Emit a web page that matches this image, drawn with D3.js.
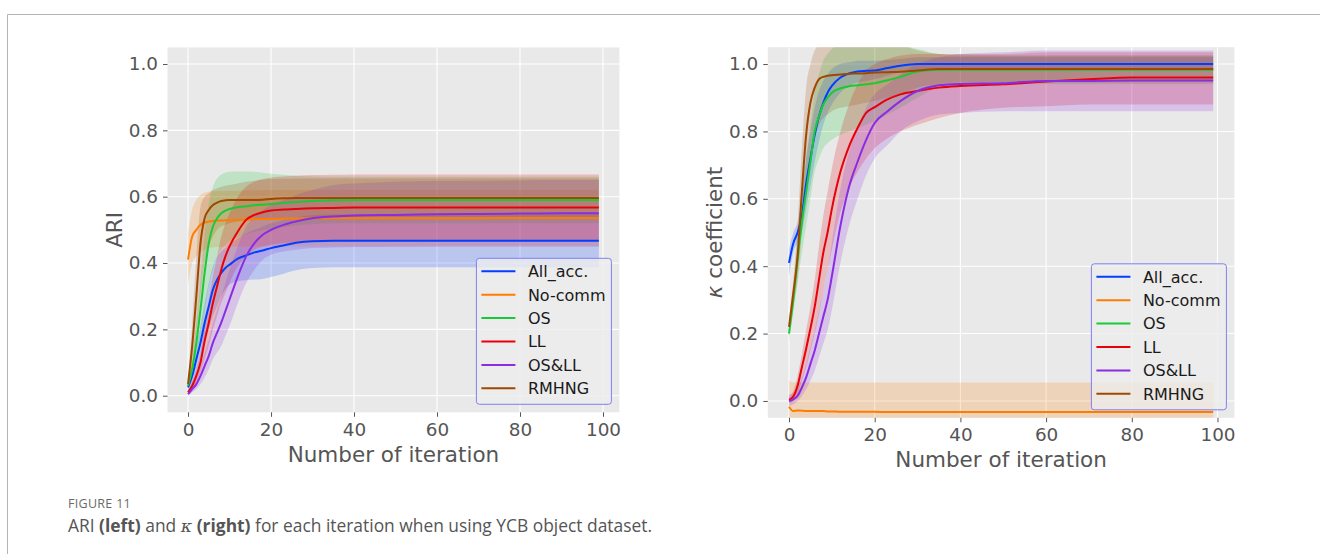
<!DOCTYPE html>
<html>
<head>
<meta charset="utf-8">
<script src="https://d3js.org/d3.v7.min.js"></script>
<style>
  body { margin: 0; background: #fff; }
  svg { display: block; }
  .tick text { font-family: "DejaVu Sans", sans-serif; }
</style>
</head>
<body>
<div id="chart"></div>
<script>
const iters = [0,1,2,3,4,5,6,7,8,9,10,12,14,16,18,20,23,26,30,35,40,50,60,70,80,90,99];

const seriesNames = ["All_acc.", "No-comm", "OS", "LL", "OS&LL", "RMHNG"];
const seriesColors = ["#023eff", "#ff7c00", "#1ac938", "#e8000b", "#8b2be2", "#9f4800"];

const yTicks = [0, 0.2, 0.4, 0.6, 0.8, 1.0];
const xTicks = [0, 20, 40, 60, 80, 100];

// ---- ARI (left)
const ariAllAcc   = [0.025,0.06,0.11,0.16,0.22,0.27,0.32,0.35,0.37,0.385,0.395,0.413,0.423,0.432,0.438,0.445,0.453,0.461,0.466,0.467,0.467,0.467,0.467,0.467,0.467,0.467,0.467];
const ariAllAccLo = [0.01,0.03,0.07,0.11,0.16,0.2,0.24,0.27,0.3,0.32,0.335,0.345,0.348,0.35,0.352,0.358,0.368,0.378,0.385,0.387,0.387,0.387,0.387,0.387,0.387,0.387,0.387];
const ariAllAccHi = [0.04,0.09,0.15,0.21,0.28,0.34,0.39,0.42,0.435,0.445,0.455,0.475,0.49,0.5,0.51,0.52,0.53,0.538,0.545,0.547,0.547,0.547,0.547,0.547,0.547,0.547,0.547];

const ariNoComm   = [0.41,0.48,0.5,0.515,0.522,0.525,0.527,0.528,0.528,0.529,0.529,0.53,0.531,0.532,0.533,0.533,0.534,0.534,0.535,0.535,0.535,0.535,0.535,0.535,0.536,0.536,0.536];
const ariNoCommLo = [0.33,0.4,0.42,0.43,0.44,0.445,0.447,0.448,0.448,0.449,0.449,0.45,0.45,0.45,0.45,0.45,0.45,0.45,0.45,0.45,0.45,0.45,0.45,0.45,0.45,0.45,0.45];
const ariNoCommHi = [0.49,0.56,0.59,0.605,0.612,0.615,0.616,0.617,0.617,0.618,0.618,0.618,0.619,0.619,0.62,0.62,0.62,0.62,0.62,0.62,0.62,0.62,0.62,0.62,0.62,0.62,0.62];

const ariOs   = [0.03,0.08,0.16,0.26,0.37,0.46,0.51,0.535,0.55,0.558,0.563,0.568,0.571,0.574,0.576,0.578,0.581,0.584,0.587,0.589,0.59,0.59,0.59,0.59,0.59,0.59,0.59];
const ariOsLo = [0.02,0.05,0.1,0.17,0.25,0.33,0.38,0.42,0.44,0.455,0.465,0.478,0.487,0.494,0.499,0.503,0.508,0.513,0.517,0.52,0.52,0.52,0.52,0.52,0.52,0.52,0.52];
const ariOsHi = [0.04,0.11,0.22,0.35,0.49,0.58,0.63,0.655,0.667,0.672,0.675,0.676,0.676,0.675,0.672,0.669,0.666,0.663,0.661,0.66,0.66,0.66,0.66,0.66,0.66,0.66,0.66];

const ariLl   = [0.01,0.03,0.06,0.1,0.165,0.22,0.28,0.33,0.38,0.42,0.45,0.495,0.53,0.545,0.553,0.558,0.561,0.563,0.565,0.566,0.567,0.567,0.567,0.567,0.567,0.567,0.567];
const ariLlLo = [0.005,0.015,0.04,0.07,0.11,0.15,0.2,0.24,0.28,0.31,0.34,0.39,0.42,0.44,0.45,0.455,0.46,0.462,0.465,0.466,0.467,0.467,0.467,0.467,0.467,0.467,0.467];
const ariLlHi = [0.015,0.045,0.08,0.13,0.22,0.29,0.36,0.42,0.48,0.52,0.55,0.6,0.63,0.645,0.653,0.658,0.661,0.663,0.665,0.666,0.667,0.667,0.667,0.667,0.667,0.667,0.667];

const ariOsll   = [0.005,0.02,0.035,0.06,0.09,0.12,0.16,0.19,0.22,0.255,0.29,0.36,0.42,0.46,0.485,0.5,0.515,0.525,0.535,0.54,0.543,0.545,0.547,0.548,0.549,0.55,0.55];
const ariOsllLo = [0.0,0.01,0.02,0.035,0.055,0.08,0.11,0.13,0.15,0.18,0.21,0.28,0.34,0.38,0.41,0.425,0.435,0.44,0.445,0.447,0.448,0.449,0.45,0.45,0.45,0.45,0.45];
const ariOsllHi = [0.01,0.03,0.055,0.09,0.13,0.17,0.22,0.26,0.3,0.34,0.38,0.45,0.51,0.54,0.56,0.575,0.59,0.605,0.62,0.635,0.64,0.645,0.647,0.648,0.649,0.65,0.65];

const ariRmhng   = [0.035,0.15,0.3,0.46,0.535,0.56,0.575,0.582,0.587,0.589,0.59,0.59,0.59,0.59,0.591,0.593,0.595,0.596,0.596,0.596,0.596,0.596,0.596,0.596,0.596,0.596,0.596];
const ariRmhngLo = [0.02,0.08,0.18,0.3,0.4,0.45,0.48,0.5,0.51,0.515,0.52,0.525,0.528,0.53,0.532,0.534,0.536,0.537,0.538,0.538,0.538,0.538,0.538,0.538,0.538,0.538,0.538];
const ariRmhngHi = [0.05,0.22,0.42,0.57,0.6,0.61,0.62,0.625,0.63,0.633,0.635,0.64,0.645,0.648,0.651,0.653,0.654,0.655,0.655,0.655,0.655,0.655,0.655,0.655,0.655,0.655,0.655];

// ---- kappa (right)
const kapAllAcc   = [0.41,0.468,0.5,0.55,0.645,0.72,0.79,0.845,0.885,0.915,0.935,0.96,0.972,0.978,0.98,0.981,0.988,0.995,1.0,1.0,1.0,1.0,1.0,1.0,1.0,1.0,1.0];
const kapAllAccLo = [0.37,0.44,0.47,0.5,0.57,0.64,0.71,0.77,0.82,0.855,0.88,0.915,0.935,0.945,0.95,0.955,0.965,0.975,0.98,0.98,0.98,0.98,0.98,0.98,0.98,0.98,0.98];
const kapAllAccHi = [0.45,0.5,0.53,0.6,0.72,0.8,0.87,0.92,0.95,0.97,0.985,1.0,1.005,1.01,1.01,1.01,1.012,1.015,1.02,1.02,1.02,1.02,1.02,1.02,1.02,1.02,1.02];

const kapNoComm   = [-0.017,-0.03,-0.028,-0.029,-0.03,-0.03,-0.03,-0.03,-0.03,-0.031,-0.031,-0.032,-0.032,-0.032,-0.032,-0.032,-0.033,-0.033,-0.033,-0.033,-0.033,-0.033,-0.033,-0.033,-0.033,-0.033,-0.033];
const kapNoCommLo = [-0.06,-0.06,-0.06,-0.06,-0.06,-0.06,-0.06,-0.06,-0.06,-0.06,-0.06,-0.06,-0.06,-0.06,-0.06,-0.06,-0.06,-0.06,-0.06,-0.06,-0.06,-0.06,-0.06,-0.06,-0.06,-0.06,-0.06];
const kapNoCommHi = [0.06,0.055,0.055,0.055,0.055,0.055,0.055,0.055,0.055,0.055,0.055,0.055,0.055,0.055,0.055,0.055,0.055,0.055,0.055,0.055,0.055,0.055,0.055,0.055,0.055,0.055,0.055];

const kapOs   = [0.2,0.3,0.42,0.53,0.62,0.71,0.8,0.845,0.88,0.9,0.915,0.928,0.934,0.937,0.94,0.943,0.952,0.962,0.978,0.983,0.983,0.983,0.983,0.983,0.983,0.983,0.983];
const kapOsLo = [0.18,0.26,0.35,0.44,0.52,0.6,0.68,0.72,0.75,0.765,0.775,0.79,0.8,0.81,0.82,0.83,0.85,0.87,0.9,0.93,0.935,0.94,0.94,0.94,0.94,0.94,0.94];
const kapOsHi = [0.22,0.34,0.49,0.62,0.72,0.82,0.92,0.97,1.01,1.03,1.045,1.055,1.055,1.055,1.055,1.055,1.055,1.055,1.045,1.03,1.028,1.025,1.025,1.025,1.025,1.025,1.025];

const kapLl   = [0.003,0.013,0.045,0.1,0.155,0.215,0.28,0.36,0.44,0.5,0.57,0.68,0.755,0.81,0.855,0.872,0.895,0.91,0.92,0.93,0.935,0.94,0.948,0.955,0.96,0.96,0.96];
const kapLlLo = [-0.005,0.0,0.02,0.06,0.1,0.15,0.2,0.26,0.33,0.39,0.45,0.56,0.63,0.68,0.72,0.75,0.78,0.8,0.82,0.84,0.855,0.87,0.875,0.88,0.88,0.88,0.88];
const kapLlHi = [0.01,0.03,0.075,0.14,0.21,0.28,0.36,0.46,0.55,0.62,0.69,0.8,0.88,0.94,0.98,1.0,1.015,1.025,1.03,1.03,1.03,1.03,1.035,1.035,1.035,1.035,1.035];

const kapOsll   = [0.0,0.005,0.015,0.04,0.07,0.11,0.15,0.2,0.25,0.3,0.37,0.52,0.635,0.71,0.775,0.825,0.86,0.89,0.92,0.937,0.941,0.943,0.95,0.95,0.951,0.951,0.951];
const kapOsllLo = [-0.015,-0.01,0.0,0.015,0.035,0.06,0.09,0.13,0.17,0.21,0.27,0.41,0.52,0.6,0.67,0.72,0.76,0.8,0.83,0.85,0.855,0.86,0.86,0.86,0.86,0.86,0.86];
const kapOsllHi = [0.02,0.025,0.04,0.07,0.11,0.16,0.21,0.27,0.33,0.39,0.47,0.63,0.74,0.81,0.87,0.91,0.94,0.97,1.0,1.02,1.03,1.035,1.04,1.04,1.04,1.04,1.04];

const kapRmhng   = [0.22,0.32,0.43,0.62,0.79,0.885,0.93,0.955,0.962,0.965,0.967,0.969,0.971,0.972,0.973,0.975,0.976,0.977,0.981,0.985,0.985,0.985,0.985,0.985,0.985,0.985,0.985];
const kapRmhngLo = [0.2,0.28,0.36,0.5,0.62,0.72,0.78,0.82,0.84,0.85,0.86,0.87,0.875,0.88,0.885,0.89,0.9,0.91,0.93,0.94,0.945,0.945,0.945,0.945,0.945,0.945,0.945];
const kapRmhngHi = [0.24,0.36,0.52,0.75,0.93,1.0,1.04,1.055,1.055,1.055,1.055,1.055,1.055,1.055,1.055,1.055,1.055,1.055,1.04,1.03,1.025,1.025,1.025,1.025,1.025,1.025,1.025];

const W = 1320, H = 554;
const svg = d3.select("#chart").append("svg").attr("width", W).attr("height", H);

// page frame
svg.append("path").attr("d", "M7.5,554 V14.5 H1320")
  .attr("fill", "none").attr("stroke", "#b4b4b4").attr("stroke-width", 1);

function drawPanel(id, box, yLabel, means, los, his) {
  const x = d3.scaleLinear().domain([-4.95, 103.95]).range([box.left, box.right]);
  const y = d3.scaleLinear().domain([-0.05, 1.05]).range([box.bottom, box.top]);
  const g = svg.append("g");

  g.append("rect").attr("x", box.left).attr("y", box.top)
    .attr("width", box.right - box.left).attr("height", box.bottom - box.top)
    .attr("fill", "#e9e9e9");

  g.append("clipPath").attr("id", "clip" + id).append("rect")
    .attr("x", box.left).attr("y", box.top)
    .attr("width", box.right - box.left).attr("height", box.bottom - box.top);

  // grid
  g.selectAll(".hg").data(yTicks).join("line")
    .attr("x1", box.left).attr("x2", box.right)
    .attr("y1", d => y(d)).attr("y2", d => y(d))
    .attr("stroke", "#fff").attr("stroke-width", 1.1);
  g.selectAll(".vg").data(xTicks).join("line")
    .attr("y1", box.top).attr("y2", box.bottom)
    .attr("x1", d => x(d)).attr("x2", d => x(d))
    .attr("stroke", "#fff").attr("stroke-width", 1.1);

  const plot = g.append("g").attr("clip-path", "url(#clip" + id + ")");

  const area = d3.area().x((d, i) => x(iters[i])).y0(d => y(d[0])).y1(d => y(d[1]))
    .curve(d3.curveMonotoneX);
  const line = d3.line().x((d, i) => x(iters[i])).y(d => y(d)).curve(d3.curveMonotoneX);

  seriesNames.forEach((name, k) => {
    const band = los[k].map((v, i) => [v, his[k][i]]);
    plot.append("path").attr("d", area(band))
      .attr("fill", seriesColors[k]).attr("fill-opacity", 0.2);
  });
  seriesNames.forEach((name, k) => {
    plot.append("path").attr("d", line(means[k]))
      .attr("fill", "none").attr("stroke", seriesColors[k]).attr("stroke-width", 2);
  });

  // axes
  const ax = g.append("g").attr("transform", `translate(0,${box.bottom})`)
    .call(d3.axisBottom(x).tickValues(xTicks).tickSize(4.5).tickPadding(6));
  const ay = g.append("g").attr("transform", `translate(${box.left},0)`)
    .call(d3.axisLeft(y).tickValues(yTicks).tickFormat(d3.format(".1f")).tickSize(4.5).tickPadding(5));
  [ax, ay].forEach(a => {
    a.select(".domain").remove();
    a.selectAll(".tick line").attr("stroke", "#555");
    a.selectAll(".tick text").attr("fill", "#555").style("font-size", "18.4px");
  });

  g.append("text")
    .attr("x", (box.left + box.right) / 2).attr("y", box.bottom + 49.5)
    .attr("text-anchor", "middle").attr("fill", "#555")
    .style("font-family", "DejaVu Sans").style("font-size", "21.5px")
    .text("Number of iteration");

  const yl = g.append("text")
    .attr("transform", `translate(${box.left - 46},${(box.top + box.bottom) / 2}) rotate(-90)`)
    .attr("text-anchor", "middle").attr("fill", "#555")
    .style("font-family", "DejaVu Sans").style("font-size", "21.5px");
  yLabel(yl);

  // legend
  const lw = 135, lh = 146;
  const lx = box.right - 8 - lw, ly = box.bottom - 8 - lh;
  const lg = g.append("g");
  lg.append("rect").attr("x", lx).attr("y", ly).attr("width", lw).attr("height", lh)
    .attr("rx", 3).attr("fill", "#ececec").attr("fill-opacity", 0.8)
    .attr("stroke", "#8080f0").attr("stroke-width", 1);
  seriesNames.forEach((name, k) => {
    const cy = ly + 13 + k * 23.4;
    lg.append("line").attr("x1", lx + 5).attr("x2", lx + 39).attr("y1", cy).attr("y2", cy)
      .attr("stroke", seriesColors[k]).attr("stroke-width", 2);
    lg.append("text").attr("x", lx + 51.5).attr("y", cy + 5.8)
      .attr("fill", "#1a1a1a").style("font-family", "DejaVu Sans").style("font-size", "16px")
      .text(name);
  });
}

drawPanel("L", {left: 167.5, right: 619.4, top: 47.4, bottom: 412.3},
  t => t.text("ARI"),
  [ariAllAcc, ariNoComm, ariOs, ariLl, ariOsll, ariRmhng],
  [ariAllAccLo, ariNoCommLo, ariOsLo, ariLlLo, ariOsllLo, ariRmhngLo],
  [ariAllAccHi, ariNoCommHi, ariOsHi, ariLlHi, ariOsllHi, ariRmhngHi]);

drawPanel("R", {left: 767.8, right: 1234.4, top: 47.2, bottom: 417.8},
  t => { t.append("tspan").style("font-style", "italic").text("κ"); t.append("tspan").text(" coefficient"); },
  [kapAllAcc, kapNoComm, kapOs, kapLl, kapOsll, kapRmhng],
  [kapAllAccLo, kapNoCommLo, kapOsLo, kapLlLo, kapOsllLo, kapRmhngLo],
  [kapAllAccHi, kapNoCommHi, kapOsHi, kapLlHi, kapOsllHi, kapRmhngHi]);

// caption
svg.append("text").attr("x", 68).attr("y", 507.5)
  .attr("fill", "#6a6a6a").style("font-family", "Open Sans").style("font-size", "12.5px")
  .style("letter-spacing", "0.3px").text("FIGURE 11");
const cap = svg.append("text").attr("x", 68).attr("y", 531.5)
  .attr("fill", "#555").style("font-family", "Open Sans").style("font-size", "17.4px");
cap.append("tspan").text("ARI ");
cap.append("tspan").style("font-weight", "bold").text("(left)");
cap.append("tspan").text(" and ");
cap.append("tspan").style("font-style", "italic").style("font-family", "DejaVu Serif").text("κ");
cap.append("tspan").text(" ");
cap.append("tspan").style("font-weight", "bold").text("(right)");
cap.append("tspan").text(" for each iteration when using YCB object dataset.");
</script>
</body>
</html>
